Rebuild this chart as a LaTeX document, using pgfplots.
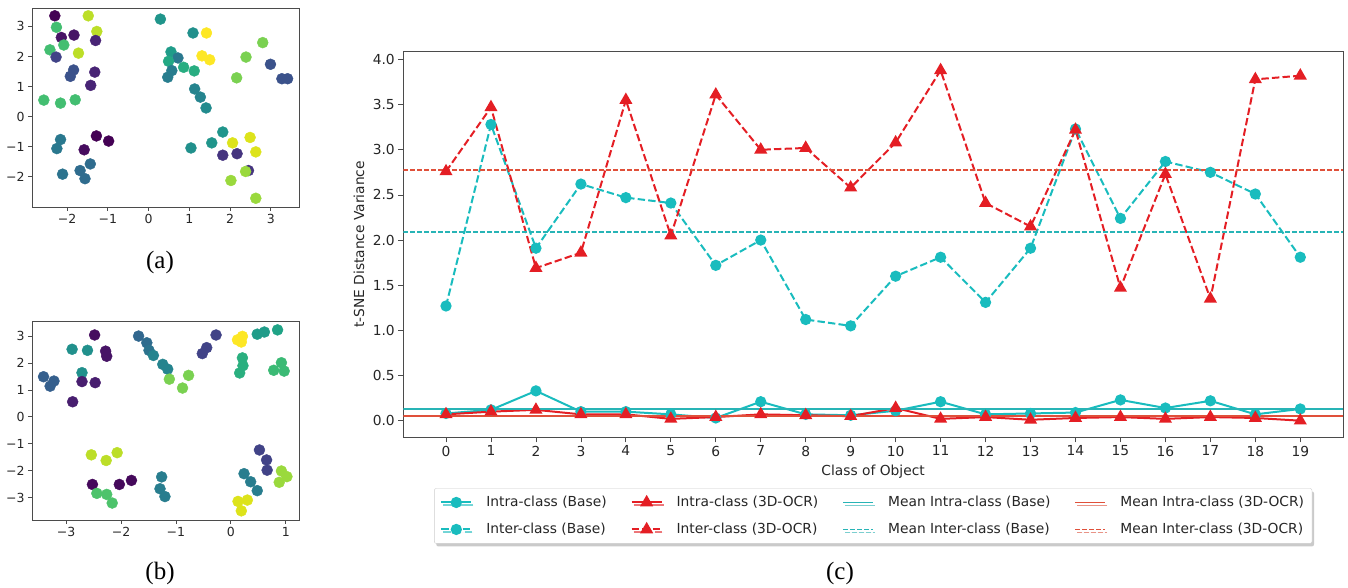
\documentclass[border=0pt]{standalone}
\usepackage{pgfplots}
\pgfplotsset{compat=1.18}
\usepackage{fontspec}
\setmainfont{DejaVu Sans}
\newfontfamily\capfont{Liberation Serif}
\usetikzlibrary{shadows}

\definecolor{tealc}{RGB}{25,188,190}
\definecolor{redc}{RGB}{228,30,36}
\definecolor{mteal}{RGB}{40,180,182}
\definecolor{mred}{RGB}{224,80,58}
\definecolor{spine}{RGB}{75,75,75}

\pgfplotsset{
  scat/.style={scale only axis, width=267pt, height=199pt, anchor=south west,
    axis line style={spine, line width=0.8pt}, tick align=outside, tick pos=left,
    major tick length=4pt, every tick/.style={spine, line width=0.8pt},
    tick label style={font=\fontsize{12.5}{14}\selectfont, text=black!85},
    colormap/viridis, point meta min=0, point meta max=1},
  scpts/.style={scatter, only marks, mark=*, mark size=5.5pt, scatter src=explicit,
    scatter/use mapped color={draw=mapped color, fill=mapped color}}
}

\begin{document}
\begin{tikzpicture}
\path[use as bounding box] (0pt,0pt) rectangle (1348pt,588pt);

% ---------------- (a)
\begin{axis}[scat, at={(32pt,381pt)}, xmin=-2.86, xmax=3.69, ymin=-3.0, ymax=3.61,
  xtick={-2,-1,0,1,2,3}, xticklabels={−2,−1,0,1,2,3},
  ytick={-2,-1,0,1,2,3}, yticklabels={−2,−1,0,1,2,3}]
\addplot[scpts] table[x=x,y=y,meta=c] {
x y c
-2.30 3.35 0.00
-2.26 2.97 0.70
-1.48 3.35 0.90
-1.27 2.83 0.90
-2.14 2.63 0.05
-1.83 2.71 0.05
-1.30 2.53 0.10
-2.42 2.22 0.70
-2.08 2.38 0.70
-1.72 2.11 0.90
-2.27 1.98 0.20
-1.84 1.55 0.25
-1.92 1.34 0.25
-1.32 1.48 0.10
-1.42 1.04 0.10
-2.57 0.55 0.70
-2.16 0.45 0.70
-1.80 0.56 0.70
-2.16 -0.76 0.40
-2.25 -1.06 0.40
-1.58 -1.10 0.03
-1.28 -0.64 0.00
-0.98 -0.81 0.00
-2.11 -1.91 0.38
-1.68 -1.79 0.35
-1.43 -1.57 0.35
-1.56 -2.06 0.35
0.29 3.24 0.52
1.09 2.78 0.50
1.42 2.78 1.00
0.55 2.15 0.55
0.72 1.95 0.40
0.49 1.84 0.60
1.31 2.02 1.00
1.50 1.89 1.00
0.86 1.64 0.62
1.12 1.52 0.62
0.57 1.53 0.42
0.47 1.31 0.42
1.13 0.92 0.45
1.27 0.65 0.45
1.41 0.29 0.48
2.80 2.46 0.80
2.39 1.98 0.80
2.16 1.29 0.80
2.99 1.74 0.25
3.27 1.26 0.25
3.41 1.26 0.25
1.82 -0.51 0.52
1.04 -1.04 0.50
1.55 -0.87 0.52
2.06 -0.87 0.95
2.49 -0.69 0.95
2.63 -1.17 0.95
1.82 -1.28 0.15
2.17 -1.23 0.15
2.45 -1.79 0.15
2.38 -1.82 0.85
2.02 -2.12 0.85
2.63 -2.71 0.85
};
\end{axis}

% ---------------- (b)
\begin{axis}[scat, at={(32pt,68pt)}, xmin=-3.62, xmax=1.24, ymin=-3.83, ymax=3.56,
  xtick={-3,-2,-1,0,1}, xticklabels={−3,−2,−1,0,1},
  ytick={-3,-2,-1,0,1,2,3}, yticklabels={−3,−2,−1,0,1,2,3}]
\addplot[scpts] table[x=x,y=y,meta=c] {
x y c
-2.48 3.04 0.03
-2.89 2.51 0.50
-2.61 2.47 0.50
-2.28 2.44 0.05
-2.26 2.25 0.05
-2.71 1.64 0.50
-3.41 1.49 0.30
-3.22 1.33 0.30
-3.29 1.14 0.30
-2.71 1.31 0.08
-2.47 1.27 0.08
-2.88 0.56 0.08
-1.68 3.00 0.33
-1.53 2.75 0.35
-1.49 2.47 0.38
-1.41 2.28 0.45
-1.24 1.95 0.45
-1.15 1.77 0.45
-1.12 1.40 0.80
-0.77 1.54 0.80
-0.88 1.07 0.80
-0.52 2.35 0.20
-0.44 2.57 0.20
-0.27 3.04 0.20
0.12 2.86 1.00
0.21 2.99 1.00
0.19 2.78 1.00
0.48 3.07 0.55
0.61 3.15 0.55
0.85 3.23 0.58
0.21 2.19 0.63
0.22 1.90 0.63
0.16 1.63 0.63
0.78 1.73 0.68
0.92 2.01 0.68
0.97 1.70 0.68
-2.54 -1.41 0.90
-2.27 -1.62 0.90
-2.07 -1.33 0.90
-2.52 -2.51 0.02
-2.03 -2.51 0.02
-1.81 -2.36 0.02
-2.44 -2.84 0.72
-2.26 -2.88 0.72
-2.16 -3.20 0.72
-1.26 -2.23 0.42
-1.29 -2.67 0.42
-1.20 -2.96 0.42
0.52 -1.23 0.20
0.65 -1.60 0.20
0.66 -1.98 0.20
0.24 -2.11 0.42
0.36 -2.41 0.42
0.48 -2.74 0.42
0.92 -2.01 0.85
1.02 -2.22 0.85
0.88 -2.43 0.85
0.13 -3.14 0.95
0.30 -3.09 0.95
0.19 -3.49 0.95
};
\end{axis}

% ---------------- (c)
\begin{axis}[scale only axis, width=939.7pt, height=385.6pt, at={(403.3pt,150.7pt)}, anchor=south west,
  xmin=-0.95, xmax=19.95, ymin=-0.184, ymax=4.086,
  axis line style={spine, line width=0.8pt}, tick align=outside, tick pos=left,
  major tick length=5pt, every tick/.style={spine, line width=0.8pt},
  tick label style={font=\fontsize{13.8}{16}\selectfont, text=black!85},
  xtick={0,1,...,19}, xticklabels={0,1,2,3,4,5,6,7,8,9,10,11,12,13,14,15,16,17,18,19},
  ytick={0,0.5,1,1.5,2,2.5,3,3.5,4}, yticklabels={0.0,0.5,1.0,1.5,2.0,2.5,3.0,3.5,4.0},
  xlabel={Class of Object}, ylabel={t-SNE Distance Variance},
  label style={font=\fontsize{13.8}{16}\selectfont, text=black!85},
  xlabel style={at={(axis description cs:0.5,-0.090)}, anchor=center},
  ylabel style={at={(axis description cs:-0.0471,0.5)}, anchor=center},
  legend columns=4,
  legend cell align=left,
  legend image code/.code={\draw[mark repeat=2,mark phase=2,#1] plot coordinates {(0pt,0pt) (15pt,0pt) (30pt,0pt)};},
  legend style={at={(0.500,-0.204)}, anchor=center, draw=black!20, rounded corners=2pt, fill=white,
    drop shadow={shadow xshift=2pt, shadow yshift=-3pt, fill=black!35, opacity=0.6},
    font=\fontsize{13.8}{16}\selectfont, text=black!85, inner xsep=6pt, inner ysep=6pt,
    /tikz/every odd column/.append style={column sep=12pt},
    /tikz/every even column/.append style={column sep=22pt}, row sep=11pt},
  tealline/.style={color=tealc, line width=2pt, mark=*, mark size=4.6pt, mark options={solid, fill=tealc}},
  redline/.style={color=redc, line width=2pt, mark=triangle*, mark size=5.6pt, mark options={solid, fill=redc}},
  dsh/.style={dash pattern=on 7.4pt off 3.2pt},
  mdsh/.style={dash pattern=on 5pt off 2pt},
]
\addlegendimage{tealline}\addlegendentry{Intra-class (Base)}
\addlegendimage{redline}\addlegendentry{Intra-class (3D-OCR)}
\addlegendimage{mteal, line width=1.7pt}\addlegendentry{Mean Intra-class (Base)}
\addlegendimage{mred, line width=1.7pt}\addlegendentry{Mean Intra-class (3D-OCR)}
\addlegendimage{tealline, dsh}\addlegendentry{Inter-class (Base)}
\addlegendimage{redline, dsh}\addlegendentry{Inter-class (3D-OCR)}
\addlegendimage{draw=mteal, line width=1.9pt, mdsh}\addlegendentry{Mean Inter-class (Base)}
\addlegendimage{draw=mred, line width=1.9pt, mdsh}\addlegendentry{Mean Inter-class (3D-OCR)}

% Intra-class (Base)
\addplot[tealline, forget plot] coordinates {
(0,0.08) (1,0.12) (2,0.33) (3,0.10) (4,0.10) (5,0.07) (6,0.03) (7,0.21) (8,0.07) (9,0.06)
(10,0.11) (11,0.21) (12,0.07) (13,0.08) (14,0.09) (15,0.23) (16,0.14) (17,0.22) (18,0.07) (19,0.13)};
% Inter-class (Base)
\addplot[tealline, dsh, forget plot] coordinates {
(0,1.27) (1,3.28) (2,1.91) (3,2.62) (4,2.47) (5,2.41) (6,1.72) (7,2.00) (8,1.12) (9,1.05)
(10,1.60) (11,1.81) (12,1.31) (13,1.91) (14,3.23) (15,2.24) (16,2.87) (17,2.75) (18,2.51) (19,1.81)};
% Intra-class (3D-OCR)
\addplot[redline, forget plot] coordinates {
(0,0.07) (1,0.10) (2,0.12) (3,0.07) (4,0.07) (5,0.02) (6,0.04) (7,0.07) (8,0.06) (9,0.05)
(10,0.14) (11,0.02) (12,0.04) (13,0.01) (14,0.03) (15,0.04) (16,0.02) (17,0.04) (18,0.03) (19,0.00)};
% Inter-class (3D-OCR)
\addplot[redline, dsh, forget plot] coordinates {
(0,2.76) (1,3.47) (2,1.69) (3,1.86) (4,3.55) (5,2.05) (6,3.61) (7,3.00) (8,3.02) (9,2.58)
(10,3.08) (11,3.88) (12,2.41) (13,2.15) (14,3.22) (15,1.47) (16,2.73) (17,1.35) (18,3.78) (19,3.82)};
% means
\addplot[mteal, line width=1.7pt, forget plot] coordinates {(-0.95,0.126) (19.95,0.126)};
\addplot[draw=mteal, line width=1.9pt, mdsh, forget plot] coordinates {(-0.95,2.094) (19.95,2.094)};
\addplot[mred, line width=1.7pt, forget plot] coordinates {(-0.95,0.052) (19.95,0.052)};
\addplot[draw=mred, line width=1.9pt, mdsh, forget plot] coordinates {(-0.95,2.774) (19.95,2.774)};
\end{axis}

\node[font=\capfont\fontsize{25}{28}\selectfont] at (160pt,326pt) {(a)};
\node[font=\capfont\fontsize{25}{28}\selectfont] at (160pt,15pt) {(b)};
\node[font=\capfont\fontsize{25}{28}\selectfont] at (840pt,15pt) {(c)};
\end{tikzpicture}
\end{document}
